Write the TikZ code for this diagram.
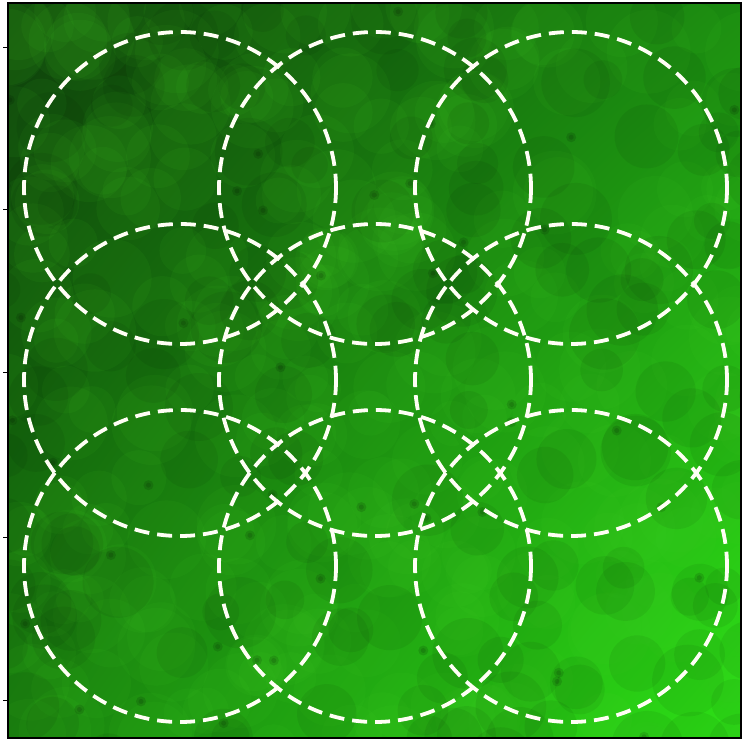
\documentclass[tikz,border=0pt]{standalone}
\usetikzlibrary{shadings}
\definecolor{gUL}{RGB}{14,62,10}
\definecolor{gUR}{RGB}{26,138,16}
\definecolor{gLL}{RGB}{24,128,14}
\definecolor{gLR}{RGB}{45,225,22}
\definecolor{blobcol}{RGB}{70,210,40}
\begin{document}
\begin{tikzpicture}[x=1pt,y=-1pt,
  dashcircle/.style={draw=white!96!yellow, line width=3.8pt, dash pattern=on 15pt off 8pt},
  blobhi/.style={fill=blobcol, fill opacity=0.07},
  blobdk/.style={fill=black, fill opacity=0.06},
  speck/.style={fill=black, fill opacity=0.12},
  tickmark/.style={draw=black, line width=0.8pt},
  frame/.style={draw=black, line width=1.6pt}]
\useasboundingbox (0,0) rectangle (743,741);
\fill[white] (0,0) rectangle (743,741);
% textured green image
\begin{scope}
\clip (8,3) rectangle (741,738);
\shade[upper left=gUL, upper right=gUR, lower left=gLL, lower right=gLR]
  (8,3) rectangle (741,738);
\pgfmathsetseed{42}
\foreach \i in {1,...,320}{
  \pgfmathsetmacro\bx{rnd*760}
  \pgfmathsetmacro\by{rnd*760}
  \pgfmathsetmacro\br{22+rnd*20}
  \fill[blobhi] (\bx,\by) circle (\br);
}
\foreach \i in {1,...,160}{
  \pgfmathsetmacro\bx{rnd*760}
  \pgfmathsetmacro\by{rnd*760}
  \pgfmathsetmacro\br{18+rnd*18}
  \fill[blobdk] (\bx,\by) circle (\br);
}
\foreach \i in {1,...,50}{
  \pgfmathsetmacro\bx{rnd*760}
  \pgfmathsetmacro\by{rnd*760}
  \fill[speck] (\bx,\by) circle (5);
  \fill[speck] (\bx,\by) circle (2.5);
}
\end{scope}
\draw[frame] (8,3) rectangle (741,738);
% ticks
\foreach \ty in {47,209,372,537,700}{
  \draw[tickmark] (3,\ty) -- (8,\ty);
}
% circle centres
\coordinate (c11) at (180,188);
\coordinate (c12) at (375,188);
\coordinate (c13) at (571,188);
\coordinate (c21) at (180,380);
\coordinate (c22) at (375,380);
\coordinate (c23) at (571,380);
\coordinate (c31) at (180,566);
\coordinate (c32) at (375,566);
\coordinate (c33) at (571,566);
\foreach \c in {c11,c12,c13,c21,c22,c23,c31,c32,c33}{
  \draw[dashcircle] (\c) circle (156);
}
\end{tikzpicture}
\end{document}
